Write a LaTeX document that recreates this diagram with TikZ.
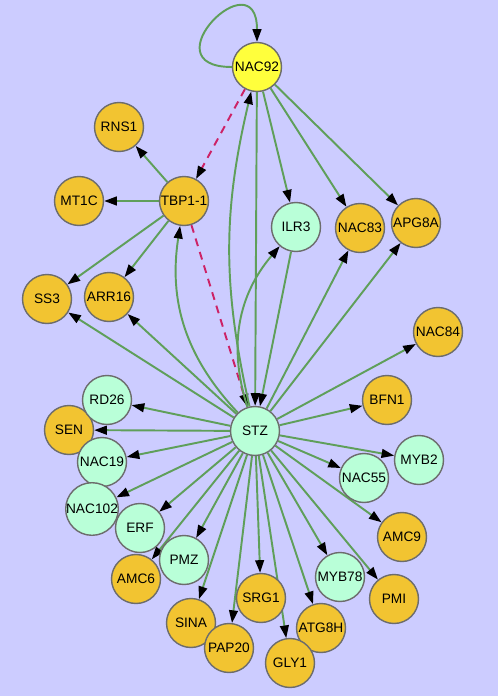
\documentclass[tikz,border=0pt]{standalone}
\usepackage{fontspec}
\setsansfont{Liberation Sans}
\usetikzlibrary{arrows.meta}
\definecolor{bgblue}{HTML}{CCCCFF}
\definecolor{geneorange}{HTML}{F2C431}
\definecolor{genegreen}{HTML}{B9FFD8}
\definecolor{geneyellow}{HTML}{FFFF3C}
\definecolor{linkgreen}{HTML}{5F9F5A}
\definecolor{linkred}{HTML}{CC2266}
\pgfdeclarelayer{bg}
\pgfsetlayers{bg,main}

\begin{document}
\begin{tikzpicture}[x=0.02cm, y=-0.02cm,
    gene/.style={circle, draw=gray!85!black, line width=0.8pt, minimum size=0.98cm,
      inner sep=0pt, font=\sffamily\fontsize{7.8}{8}\selectfont},
    og/.style={gene, fill=geneorange},
    gg/.style={gene, fill=genegreen},
    yg/.style={gene, fill=geneyellow},
    link/.style={draw=linkgreen, line width=1.1pt, -{Triangle[length=7.2pt, width=5pt, black]}},
    dashlink/.style={link, draw=linkred, dash pattern=on 4.5pt off 3.5pt}]
  \useasboundingbox (0,0) rectangle (498,696);
  \node[yg] (nac92) at (257,67) {NAC92};
  \node[og] (rns1) at (119,127) {RNS1};
  \node[og] (mt1c) at (79,201) {MT1C};
  \node[og] (tbp) at (184,201) {TBP1-1};
  \node[og] (ss3) at (47,299) {SS3};
  \node[og] (arr16) at (109,297) {ARR16};
  \node[gg] (ilr3) at (296,227) {ILR3};
  \node[og] (nac83) at (360,228) {NAC83};
  \node[og] (apg8a) at (416,223) {APG8A};
  \node[og] (nac84) at (438,332) {NAC84};
  \node[gg] (stz) at (255,431) {STZ};
  \node[og] (sen) at (69,430) {SEN};
  \node[gg] (rd26) at (107,400) {RD26};
  \node[gg] (nac19) at (102,462) {NAC19};
  \node[gg] (nac102) at (92,509) {NAC102};
  \node[gg] (erf) at (140,528) {ERF};
  \node[og] (amc6) at (136,579) {AMC6};
  \node[gg] (pmz) at (184,560) {PMZ};
  \node[og] (sina) at (191,623) {SINA};
  \node[og] (pap20) at (229,648) {PAP20};
  \node[og] (srg1) at (261,598) {SRG1};
  \node[og] (atg8h) at (321,628) {ATG8H};
  \node[og] (gly1) at (290,663) {GLY1};
  \node[gg] (myb78) at (340,577) {MYB78};
  \node[og] (pmi) at (394,599) {PMI};
  \node[og] (amc9) at (402,537) {AMC9};
  \node[gg] (nac55) at (364,478) {NAC55};
  \node[gg] (myb2) at (419,460) {MYB2};
  \node[og] (bfn1) at (387,400) {BFN1};

  \begin{pgfonlayer}{bg}
    \fill[bgblue] (0,0) rectangle (498,696);
    \draw[link] (nac92.west) .. controls +(-85,0) and +(0,-85) .. (nac92.north);
    \draw[dashlink] (nac92) -- (tbp);
    \draw[dashlink] (tbp) -- (stz);
    \foreach \t in {stz,ilr3,nac83,apg8a}
      \draw[link] (nac92) -- (\t);
    \foreach \t in {rns1,mt1c,ss3,arr16}
      \draw[link] (tbp) -- (\t);
    \draw[link] (ilr3) -- (stz);
    \draw[link] (stz) to[bend left=13] (nac92);
    \draw[link] (stz) to[bend left=26] (tbp);
    \draw[link] (stz) to[bend left=29] (ilr3);
    \foreach \t in {ss3,arr16,nac83,apg8a,nac84,bfn1,myb2,nac55,amc9,pmi,myb78,
        atg8h,gly1,srg1,pap20,sina,amc6,pmz,erf,nac102,nac19,sen,rd26}
      \draw[link] (stz) -- (\t);
  \end{pgfonlayer}
\end{tikzpicture}
\end{document}
